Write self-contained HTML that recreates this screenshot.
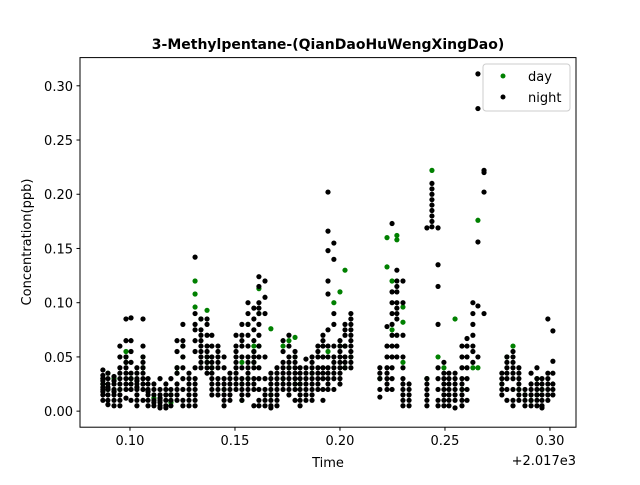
<!DOCTYPE html>
<html><head><meta charset="utf-8"><style>
body{margin:0;background:#fff;font-family:"Liberation Sans","DejaVu Sans",sans-serif}
svg text{font-family:"DejaVu Sans","Liberation Sans",sans-serif}
</style></head><body>
<svg id="chart" width="640" height="480" viewBox="0 0 640 480" xmlns="http://www.w3.org/2000/svg">
<rect width="640" height="480" fill="#fff"/>
<text x="328" y="49" text-anchor="middle" font-size="14" font-weight="bold">3-Methylpentane-(QianDaoHuWengXingDao)</text>
<g id="marks"></g>
<rect x="80" y="57.6" width="496" height="369.6" fill="none" stroke="#000" stroke-width="1"/>
<g id="axes"></g>
<text x="328" y="467" text-anchor="middle" font-size="13">Time</text>
<text x="576" y="465" text-anchor="end" font-size="13">+2.017e3</text>
<text transform="translate(31,242) rotate(-90)" text-anchor="middle" font-size="13">Concentration(ppb)</text>
<g>
<rect x="483" y="64" width="87" height="47" rx="3" fill="#fff" fill-opacity="0.8" stroke="#ccc"/>
<circle cx="503" cy="76" r="2.5" fill="green"/>
<text x="528" y="81" font-size="13">day</text>
<circle cx="503" cy="97" r="2.5" fill="#000"/>
<text x="528" y="102" font-size="13">night</text>
</g>
</svg>
<script>
const times=[0.0871,0.0895,0.0924,0.0952,0.0981,0.1005,0.1033,0.1062,0.1086,0.1114,0.1143,0.1171,0.1195,0.1224,0.1252,0.1281,0.1310,0.1338,0.1367,0.1390,0.1419,0.1448,0.1476,0.1505,0.1533,0.1562,0.1590,0.1614,0.1643,0.1671,0.1700,0.1729,0.1757,0.1786,0.1810,0.1838,0.1867,0.1895,0.1919,0.1943,0.1971,0.2000,0.2024,0.2052,0.2190,0.2224,0.2248,0.2271,0.2300,0.2329,0.2414,0.2438,0.2467,0.2495,0.2519,0.2548,0.2581,0.2605,0.2633,0.2657,0.2686,0.2771,0.2795,0.2824,0.2852,0.2881,0.2910,0.2938,0.2962,0.2990,0.3014];
const nightVals=[
[0.038,0.033,0.03,0.025,0.02,0.015,0.01,0.028,0.022,0.018],
[0.03,0.025,0.02,0.015,0.01,0.006,0.022,0.035],
[0.032,0.028,0.02,0.015,0.01,0.025,0.018,0.005],
[0.06,0.05,0.04,0.03,0.02,0.015,0.01,0.035,0.025,0.005],
[0.085,0.065,0.05,0.04,0.03,0.02,0.012,0.045,0.035,0.025],
[0.086,0.065,0.055,0.045,0.035,0.03,0.02,0.01,0.025],
[0.04,0.035,0.03,0.025,0.02,0.015,0.01,0.005,0.028,0.022],
[0.085,0.06,0.05,0.04,0.03,0.02,0.01,0.035,0.045,0.025],
[0.03,0.02,0.015,0.01,0.005,0.025,0.018],
[0.025,0.02,0.015,0.01,0.005,0.008],
[0.03,0.02,0.015,0.01,0.005,0.003,0.008,0.012],
[0.025,0.02,0.01,0.005,0.003,0.015],
[0.03,0.02,0.015,0.01,0.005],
[0.065,0.055,0.04,0.035,0.025,0.02,0.015,0.01],
[0.08,0.065,0.06,0.05,0.04,0.03,0.02,0.01,0.005],
[0.03,0.025,0.02,0.015,0.01,0.005,0.035],
[0.142,0.09,0.08,0.075,0.065,0.055,0.04,0.03,0.025,0.02,0.015,0.01,0.005],
[0.085,0.075,0.07,0.065,0.06,0.055,0.05,0.045,0.04],
[0.085,0.08,0.07,0.06,0.055,0.05,0.045,0.04,0.035],
[0.07,0.06,0.05,0.045,0.04,0.035,0.03,0.025,0.02,0.015],
[0.06,0.05,0.045,0.04,0.03,0.025,0.02,0.015,0.055],
[0.05,0.04,0.03,0.025,0.02,0.015,0.01,0.005],
[0.035,0.03,0.025,0.02,0.015,0.01],
[0.07,0.06,0.055,0.05,0.045,0.04,0.035,0.03,0.025,0.02],
[0.08,0.07,0.065,0.06,0.05,0.04,0.03,0.025,0.02,0.015,0.01],
[0.1,0.09,0.08,0.07,0.06,0.05,0.045,0.04,0.035,0.03,0.025,0.02,0.015],
[0.095,0.085,0.075,0.065,0.055,0.05,0.045,0.04,0.03,0.025,0.02,0.005],
[0.124,0.115,0.1,0.095,0.09,0.08,0.07,0.06,0.05,0.04,0.03,0.02,0.01,0.005],
[0.12,0.105,0.09,0.05,0.03,0.02,0.015,0.01,0.005],
[0.035,0.03,0.025,0.02,0.015,0.01,0.005,0.003],
[0.04,0.035,0.03,0.025,0.02,0.015,0.01,0.005],
[0.065,0.055,0.045,0.04,0.035,0.03,0.025,0.02],
[0.07,0.06,0.05,0.045,0.04,0.035,0.03,0.025,0.02,0.015],
[0.055,0.05,0.045,0.04,0.035,0.03,0.025,0.02,0.01],
[0.04,0.035,0.03,0.025,0.02,0.015,0.01,0.005],
[0.048,0.04,0.035,0.03,0.025,0.02,0.015,0.01],
[0.05,0.045,0.04,0.035,0.03,0.025,0.02,0.015,0.01],
[0.06,0.055,0.05,0.04,0.035,0.03,0.025,0.02],
[0.07,0.065,0.06,0.05,0.04,0.035,0.03,0.02,0.01],
[0.202,0.166,0.148,0.12,0.108,0.075,0.06,0.05,0.04,0.035,0.03,0.025,0.02],
[0.155,0.14,0.09,0.08,0.06,0.05,0.045,0.04,0.035,0.03,0.02],
[0.065,0.06,0.055,0.05,0.045,0.04,0.035,0.03,0.025],
[0.08,0.075,0.07,0.06,0.05,0.045,0.04],
[0.09,0.085,0.08,0.075,0.07,0.065,0.06,0.055,0.05,0.045,0.04],
[0.04,0.035,0.03,0.02,0.013],
[0.078,0.06,0.05,0.04,0.035,0.03,0.025,0.02],
[0.173,0.11,0.1,0.09,0.08,0.07,0.06,0.05,0.04,0.03,0.02],
[0.13,0.12,0.115,0.11,0.1,0.095,0.09,0.085,0.07,0.06,0.05],
[0.12,0.1,0.07,0.05,0.04,0.03,0.025,0.02,0.015,0.01,0.005],
[0.025,0.02,0.015,0.01,0.005],
[0.169,0.03,0.025,0.02,0.015,0.01,0.005],
[0.21,0.205,0.2,0.195,0.19,0.185,0.18,0.175,0.17],
[0.169,0.135,0.115,0.08,0.04,0.03,0.02,0.01,0.005],
[0.045,0.035,0.03,0.025,0.02,0.015,0.01,0.005],
[0.035,0.03,0.025,0.02,0.015,0.01,0.005],
[0.035,0.03,0.025,0.02,0.015,0.01,0.003],
[0.06,0.05,0.04,0.03,0.025,0.02,0.015,0.01,0.005],
[0.067,0.06,0.05,0.04,0.03,0.02,0.01],
[0.1,0.09,0.08,0.07,0.06,0.055,0.045],
[0.311,0.279,0.156,0.097,0.05],
[0.222,0.22,0.202,0.09],
[0.035,0.03,0.025,0.02,0.015],
[0.05,0.045,0.04,0.035,0.03,0.02,0.01],
[0.055,0.05,0.045,0.04,0.035,0.03,0.02,0.01,0.005],
[0.04,0.035,0.03,0.025,0.02,0.015,0.01],
[0.02,0.015,0.01,0.005],
[0.035,0.025,0.02,0.015,0.01,0.005],
[0.04,0.03,0.025,0.02,0.015,0.01,0.005],
[0.03,0.025,0.02,0.015,0.01,0.005,0.003],
[0.085,0.035,0.03,0.025,0.02,0.015,0.01],
[0.074,0.046,0.035,0.025,0.02,0.015]
];
const dayVals=[
[0.025,0.03],[0.035,0.02],[0.03],[0.02],[0.055,0.045,0.05],[0.03],[],[0.05,0.04],[],[0.012],[],[],[0.015,0.008],[0.04,0.035],[0.06,0.05],[],[0.12,0.108,0.096],[0.085],[0.093,0.045,0.05],[0.04],[],[0.02],[],[],[0.045,0.025,0.01],[0.08,0.03],[0.055,0.06,0.045],[0.113,0.09,0.06],[],[0.076,0.015],[],[0.06,0.03],[0.065,0.04],[0.068,0.05,0.025],[0.025],[],[0.035],[],[],[0.055],[0.1],[0.11,0.06],[0.13,0.06,0.04],[0.05],
[0.03],[0.16,0.133],[0.12,0.075],[0.158,0.162],[0.096,0.082,0.045],[],[0.03],[0.222],[0.05],[0.04],[],[0.085],[0.02],[],[0.04],[0.176,0.04],[],[0.025],[0.05],[0.06],[0.02],[0.015],[0.01],[0.03,0.015],[0.02],[],[]
];
const xTicks=[0.10,0.15,0.20,0.25,0.30];
const xTickLabels=["0.10","0.15","0.20","0.25","0.30"];
const yTicks=[0,0.05,0.10,0.15,0.20,0.25,0.30];
const yTickLabels=["0.00","0.05","0.10","0.15","0.20","0.25","0.30"];
const X0=0.0762,X1=0.3124,Y0=-0.0148,Y1=0.326;
const L=80,R=576,T=57.6,B=427.2;
function xs(v){return L+(v-X0)/(X1-X0)*(R-L);}
function ys(v){return B-(v-Y0)/(Y1-Y0)*(B-T);}
const NS="http://www.w3.org/2000/svg";
const marks=document.getElementById('marks');
function dot(x,y,c,name){
  const el=document.createElementNS(NS,'circle');
  el.setAttribute('cx',xs(x));el.setAttribute('cy',ys(y));el.setAttribute('r',2.6);el.setAttribute('fill',c);
  
  
  marks.appendChild(el);
}
times.forEach((t,i)=>{(dayVals[i]||[]).forEach(v=>dot(t,v,'green','day-point'));});
times.forEach((t,i)=>{(nightVals[i]||[]).forEach(v=>dot(t,v,'#000','night-point'));});
const axes=document.getElementById('axes');
xTicks.forEach((v,i)=>{
  const ln=document.createElementNS(NS,'line');
  ln.setAttribute('x1',xs(v));ln.setAttribute('x2',xs(v));ln.setAttribute('y1',B);ln.setAttribute('y2',B+3.5);ln.setAttribute('stroke','#000');
  
  
  axes.appendChild(ln);
  const tx=document.createElementNS(NS,'text');
  tx.setAttribute('x',xs(v));tx.setAttribute('y',B+18);tx.setAttribute('text-anchor','middle');tx.setAttribute('font-size','13');
  tx.textContent=xTickLabels[i];
  
  
  axes.appendChild(tx);
});
yTicks.forEach((v,i)=>{
  const ln=document.createElementNS(NS,'line');
  ln.setAttribute('x1',L-3.5);ln.setAttribute('x2',L);ln.setAttribute('y1',ys(v));ln.setAttribute('y2',ys(v));ln.setAttribute('stroke','#000');
  
  
  axes.appendChild(ln);
  const tx=document.createElementNS(NS,'text');
  tx.setAttribute('x',L-7);tx.setAttribute('y',ys(v)+5);tx.setAttribute('text-anchor','end');tx.setAttribute('font-size','13');
  tx.textContent=yTickLabels[i];
  
  
  axes.appendChild(tx);
});
</script>
</body></html>
